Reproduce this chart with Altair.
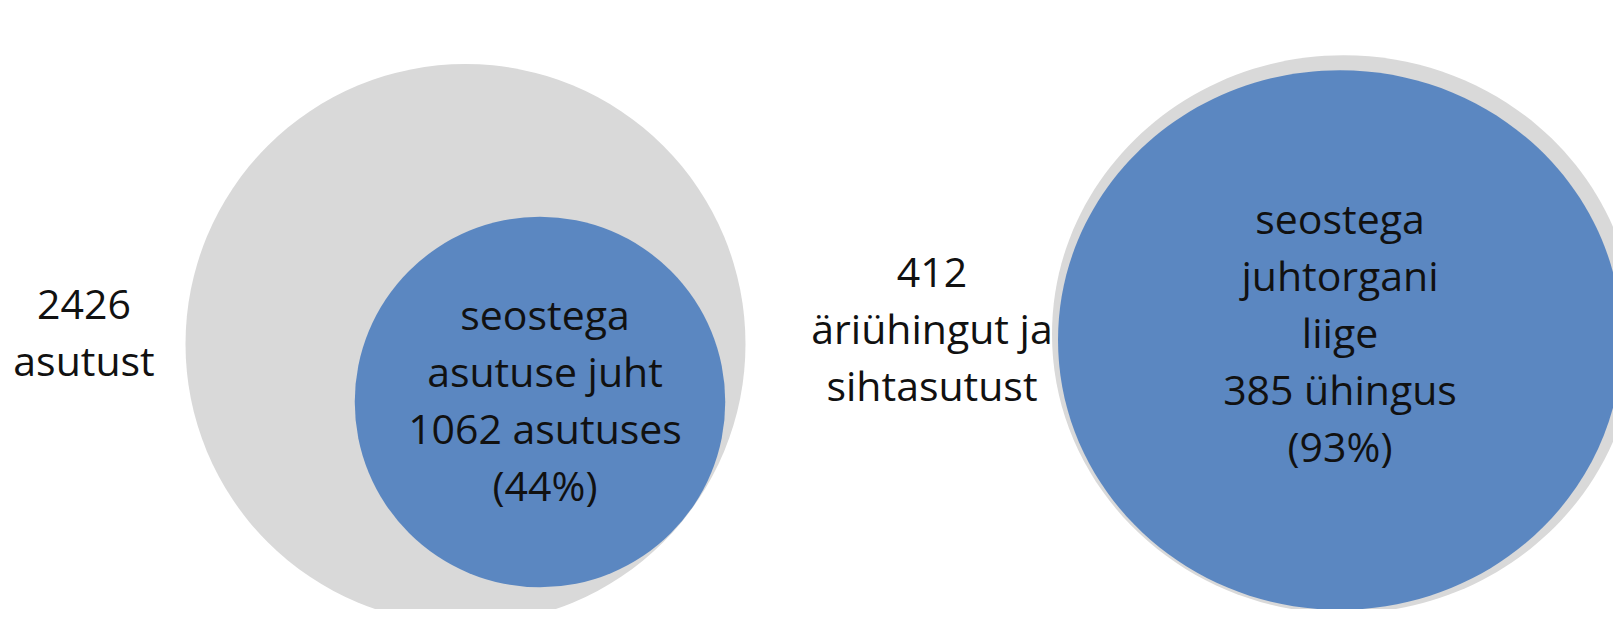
import altair as alt
import pandas as pd

# ---- data ----
panels = ["asutused", "ariuhingud"]
totals = [2426, 412]
subsets = [1062, 385]
subset_pct = [44, 93]

outer_labels = ["2426\nasutust", "412\näriühingut ja\nsihtasutust"]
inner_labels = [
    "seostega\nasutuse juht\n1062 asutuses\n(44%)",
    "seostega\njuhtorgani\nliige\n385 ühingus\n(93%)",
]

# ---- layout (chart pixel frame, origin top-left) ----
W, H = 1605, 601
outer_cx = [457.5, 1335.7]
outer_cy = [336, 326.3]
inner_cx = [532, 1332]
inner_cy = [394, 332]
outer_radius = [280, 291.7]
panel_shape = ["circle", "M -1 0 A 1 0.957 0 1 1 1 0 A 1 0.957 0 1 1 -1 0 Z"]
outer_label_x = [76, 924]
outer_label_y = [299, 267]
inner_label_x = [537, 1332]
inner_label_y = [310, 214]

rows = []
for i, p in enumerate(panels):
    # outer shape area fixed per panel, inner shape area proportional to its share
    full_size = (2 * outer_radius[i]) ** 2
    rows.append(dict(panel=p, kind="outer", count=totals[i], share=1.0,
                     x=outer_cx[i], y=outer_cy[i], full=full_size, order=0,
                     shape=panel_shape[i]))
    rows.append(dict(panel=p, kind="inner", count=subsets[i], share=subsets[i] / totals[i],
                     x=inner_cx[i], y=inner_cy[i], full=full_size, order=1,
                     shape=panel_shape[i]))
circles = pd.DataFrame(rows)
circles["size"] = circles["share"] * circles["full"]

labels = pd.DataFrame({
    "text": outer_labels + inner_labels,
    "x": outer_label_x + inner_label_x,
    "y": outer_label_y + inner_label_y,
})

xs = alt.Scale(domain=[0, W], range=[0, W])
ys = alt.Scale(domain=[0, H], range=[0, H])

circ = alt.Chart(circles).mark_point(filled=True, opacity=1, strokeWidth=0).encode(
    x=alt.X("x:Q", scale=xs, axis=None),
    y=alt.Y("y:Q", scale=ys, axis=None),
    size=alt.Size("size:Q", scale=None, legend=None),
    shape=alt.Shape("shape:N", scale=None, legend=None),
    color=alt.Color("kind:N", scale=alt.Scale(domain=["outer", "inner"], range=["#d9d9d9", "#5b87c1"]), legend=None),
    order=alt.Order("order:Q"),
)

txt = alt.Chart(labels).mark_text(
    font="Open Sans", fontSize=41, color="#111111", align="center", baseline="middle",
    lineBreak="\n", lineHeight=57,
).encode(
    x=alt.X("x:Q", scale=xs, axis=None),
    y=alt.Y("y:Q", scale=ys, axis=None),
    text="text:N",
)

chart = alt.layer(circ, txt).properties(
    width=W, height=H, padding=0, background="white",
    autosize=alt.AutoSizeParams(type="none"),
).configure_view(stroke="transparent", strokeWidth=0)

chart.save("out.html", embed_options={"renderer": "svg", "actions": False})
